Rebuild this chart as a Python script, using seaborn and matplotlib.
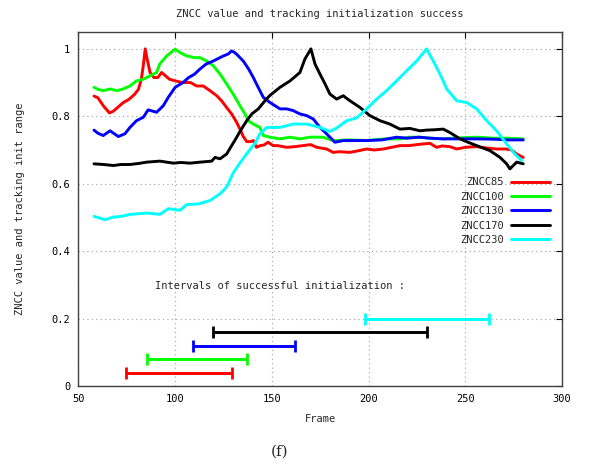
import matplotlib
matplotlib.use("Agg")
import matplotlib.pyplot as plt
import seaborn as sns
import numpy as np
import pandas as pd

# ---------------- data ----------------
red_x = [58, 60, 63, 66, 68, 70, 73, 76, 79, 81, 82.5, 83.5, 84.5, 85.5, 87, 89, 91, 93, 95, 97, 100, 104, 108, 111,
         114.5, 118, 121.5, 124, 126.6, 129.2, 131.8, 133.5, 135.2, 137, 139, 140.4, 142, 144, 146, 148, 150.7, 153,
         157.6, 162, 166, 170, 173.2, 178.3, 181.7, 185, 190.4, 195, 199, 203, 207.6, 212, 216.2, 221, 225, 231.7,
         235.2, 238, 242, 245.6, 250, 255.9, 261, 266.2, 271, 274, 276.6, 280]
red_y = [0.86, 0.855, 0.83, 0.81, 0.815, 0.825, 0.84, 0.85, 0.865, 0.88, 0.91, 0.95, 1.0, 0.97, 0.93, 0.915, 0.915,
         0.93, 0.92, 0.91, 0.905, 0.9, 0.9, 0.89, 0.89, 0.876, 0.861, 0.846, 0.826, 0.807, 0.782, 0.762, 0.74, 0.725,
         0.725, 0.728, 0.708, 0.713, 0.715, 0.723, 0.713, 0.713, 0.708, 0.71, 0.713, 0.716, 0.708, 0.703, 0.693,
         0.695, 0.693, 0.698, 0.703, 0.7, 0.703, 0.708, 0.713, 0.713, 0.716, 0.72, 0.708, 0.712, 0.71, 0.703, 0.708,
         0.71, 0.706, 0.703, 0.703, 0.7, 0.688, 0.678]

green_x = [58, 60, 62.8, 66.3, 69.8, 73.2, 76.6, 80, 83.5, 87, 90.4, 92, 95.6, 98, 100, 102.5, 106, 110, 112.8, 116.3,
           119.7, 123.2, 126.6, 130, 133.5, 136.1, 137.8, 140.4, 143.8, 145.6, 149, 154.2, 159.4, 164.5, 169.7,
           176.4, 181.7, 190, 199, 208, 216.2, 221, 226.6, 232, 238.6, 247, 255.9, 265, 272, 280]
green_y = [0.886, 0.88, 0.876, 0.881, 0.876, 0.881, 0.89, 0.905, 0.91, 0.92, 0.93, 0.955, 0.979, 0.99, 0.999, 0.989,
           0.979, 0.974, 0.974, 0.964, 0.95, 0.925, 0.896, 0.866, 0.831, 0.807, 0.787, 0.777, 0.767, 0.743, 0.738,
           0.733, 0.738, 0.733, 0.738, 0.738, 0.728, 0.73, 0.728, 0.733, 0.733, 0.738, 0.738, 0.735, 0.733, 0.736,
           0.738, 0.735, 0.735, 0.733]

blue_x = [58, 60, 62.8, 66.3, 70.6, 74, 76.6, 80, 83.5, 86, 90.4, 93.8, 96.4, 100, 104, 107, 110, 112.8, 116, 119.7,
          124.9, 127.5, 129.2, 130.5, 131.8, 135.2, 138, 140.4, 143, 145.6, 149, 154.2, 157.6, 161, 164.5, 168,
          171.4, 174.9, 178.3, 180, 182.6, 186.9, 190.4, 199, 207, 214.5, 220, 226, 232, 238.6, 247, 255.9, 265,
          272, 280]
blue_y = [0.759, 0.75, 0.743, 0.757, 0.74, 0.748, 0.767, 0.787, 0.797, 0.819, 0.812, 0.831, 0.856, 0.886, 0.9, 0.915,
          0.925, 0.94, 0.955, 0.964, 0.979, 0.985, 0.994, 0.99, 0.984, 0.964, 0.94, 0.915, 0.885, 0.856, 0.841, 0.822,
          0.822, 0.817, 0.807, 0.802, 0.792, 0.767, 0.748, 0.738, 0.723, 0.728, 0.728, 0.728, 0.73, 0.738, 0.735,
          0.738, 0.735, 0.733, 0.733, 0.733, 0.732, 0.73, 0.73]

black_x = [58, 63, 68, 72, 76.6, 81, 85.3, 92.1, 99, 103, 107.7, 113, 118.9, 120.6, 123.2, 126.6, 129.2, 131, 133.5,
           137, 139.6, 143, 146.4, 149, 154.2, 159.4, 164.5, 167.1, 170.2, 172.3, 174.9, 177.5, 180, 183.5, 186.9,
           190.4, 195.6, 200.7, 205.9, 211, 216.2, 221.4, 226.6, 230, 234, 238.6, 242, 247.3, 251, 255.9, 262.8,
           268, 271.4, 273.1, 276.6, 280]
black_y = [0.659, 0.657, 0.654, 0.657, 0.657, 0.66, 0.664, 0.667, 0.661, 0.663, 0.661, 0.664, 0.667, 0.678, 0.674,
           0.688, 0.713, 0.73, 0.755, 0.787, 0.807, 0.822, 0.846, 0.862, 0.886, 0.905, 0.93, 0.97, 1.0, 0.955, 0.925,
           0.896, 0.866, 0.851, 0.861, 0.846, 0.826, 0.802, 0.787, 0.777, 0.762, 0.764, 0.757, 0.759, 0.76, 0.762,
           0.752, 0.733, 0.724, 0.713, 0.698, 0.678, 0.659, 0.644, 0.664, 0.659]

cyan_x = [58, 60, 63.7, 68, 72, 76.6, 85.3, 92.1, 96.4, 102.5, 105.9, 112, 118, 123.2, 126.6, 130, 133.5, 137.8,
          141.3, 143.8, 147.3, 154.2, 161.1, 168, 174.9, 180, 183.5, 188.7, 193.8, 199, 204.2, 209.3, 214.5, 219.7,
          224.9, 230, 234.3, 237.8, 240.4, 245.6, 250.7, 255.9, 261.1, 266.2, 271.4, 275.7, 279.2]
cyan_y = [0.503, 0.5, 0.493, 0.501, 0.503, 0.509, 0.513, 0.509, 0.526, 0.521, 0.538, 0.54, 0.55, 0.57, 0.59, 0.632,
          0.662, 0.695, 0.72, 0.748, 0.767, 0.767, 0.777, 0.777, 0.767, 0.755, 0.765, 0.787, 0.795, 0.822, 0.851,
          0.876, 0.905, 0.935, 0.964, 1.0, 0.955, 0.915, 0.881, 0.846, 0.841, 0.822, 0.787, 0.757, 0.718, 0.688,
          0.669]

series_names = ["ZNCC85", "ZNCC100", "ZNCC130", "ZNCC170", "ZNCC230"]
series_x = [red_x, green_x, blue_x, black_x, cyan_x]
series_y = [red_y, green_y, blue_y, black_y, cyan_y]
colors = ["#ff0000", "#00ff00", "#0000ff", "#000000", "#00ffff"]

interval_start = [74.5, 85.5, 109, 119.5, 198]
interval_end = [129.5, 137, 162, 230, 262.5]
interval_level = [0.04, 0.08, 0.12, 0.16, 0.2]

x_ticks = [50, 100, 150, 200, 250, 300]
y_ticks = [0, 0.2, 0.4, 0.6, 0.8, 1.0]
y_tick_labels = ["0", "0.2", "0.4", "0.6", "0.8", "1"]

# ---------------- plot ----------------
sns.set_style("white")
mono = ["DejaVu Sans Mono"]
plt.rcParams['font.family'] = mono
fs = 7.5

fig = plt.figure(figsize=(5.92, 4.66), dpi=100)
ax = fig.add_axes([0.1326, 0.1717, 0.8166, 0.7596])

for name, xs, ys, c in zip(series_names, series_x, series_y, colors):
    df = pd.DataFrame({"Frame": xs, "v": ys})
    sns.lineplot(data=df, x="Frame", y="v", color=c, linewidth=2.1, ax=ax, label=name,
                 estimator=None, sort=False)

for s, e, lv, c in zip(interval_start, interval_end, interval_level, colors):
    mid = (s + e) / 2.0
    half = (e - s) / 2.0
    ax.errorbar([mid], [lv], xerr=[[half], [half]], fmt="none", ecolor=c, elinewidth=2.1,
                capsize=4.5, capthick=2.0)

ax.set_xlim(50, 300)
ax.set_ylim(0, 1.05)
ax.set_xticks(x_ticks)
ax.set_xticklabels([str(t) for t in x_ticks])
ax.set_yticks(y_ticks)
ax.set_yticklabels(y_tick_labels)
ax.grid(True, linestyle=(0, (1, 3)), color="#a0a0a0", linewidth=0.8)
ax.tick_params(direction="in", length=4, width=0.8, top=True, right=True, labelsize=fs,
               pad=6, colors="black")
for sp in ax.spines.values():
    sp.set_color("#404040")
    sp.set_linewidth(1.0)

ax.set_xlabel("Frame", fontsize=fs, labelpad=7)
ax.set_ylabel("ZNCC value and tracking init range", fontsize=fs, labelpad=19)
ax.set_title("ZNCC value and tracking initialization success", fontsize=fs, pad=11)

ax.text(89.5, 0.298, "Intervals of successful initialization :", fontsize=fs, ha="left", va="center")

leg = ax.legend(loc="upper right", bbox_to_anchor=(0.988, 0.607), frameon=False, fontsize=fs,
                markerfirst=False, handlelength=3.7, handletextpad=0.7, labelspacing=0.42,
                borderaxespad=0.2)
for t in leg.get_texts():
    t.set_ha("right")
leg._legend_box.align = "right"

fig.text(0.473, 0.03, "(f)", fontsize=11, family=["DejaVu Serif"], ha="center", va="center")

fig.savefig("out.png", dpi=100)
